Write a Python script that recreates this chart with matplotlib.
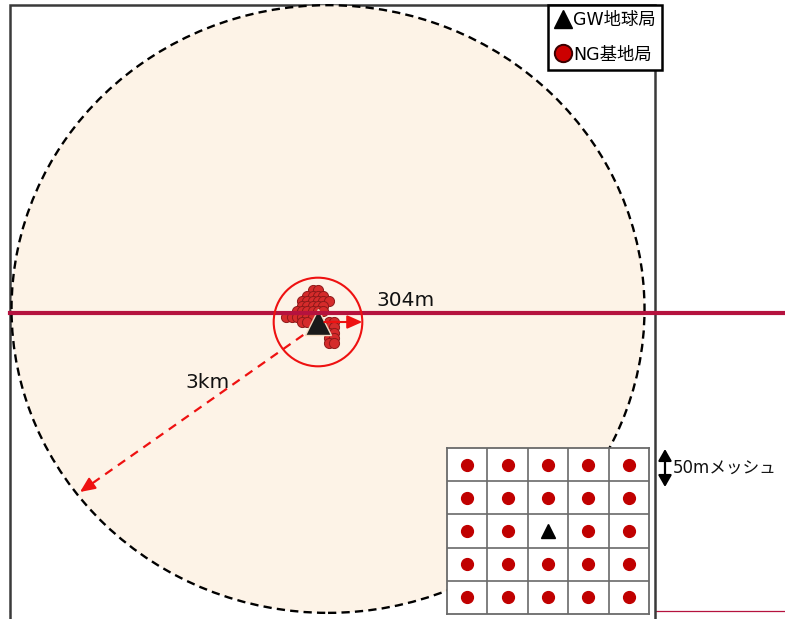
import matplotlib

matplotlib.use("Agg")
import matplotlib.pyplot as plt  # noqa: E402
from matplotlib.patches import Circle, Ellipse, Rectangle  # noqa: E402
from matplotlib.lines import Line2D  # noqa: E402

plt.rcParams["font.family"] = ["DejaVu Sans", "Noto Sans CJK JP"]

# --- data (metres, GW at origin) ---
MESH_M = 50
BIG_R = 3000          # east-west radius as drawn
BIG_R_NS = 2880       # the drawn shape is slightly squashed
BIG_CENTER = (95, 123)
SMALL_R = 420
GW_POS = (0, 0)
LABEL_SMALL = "304m"
LABEL_BIG = "3km"
LEGEND_LABELS = ["GW地球局", "NG基地局"]
MESH_LABEL = "50mメッシュ"

# NG stations around the GW, in 50 m mesh steps (east, north)
NG_I = [-1, 0,
        -2, -1, 0, 1,
        -3, -2, -1, 0, 1, 2,
        -3, -2, -1, 0, 1,
        -4, -3, -2, -1, 0, 1,
        -6, -5, -4, -3, -2, -1,
        -3, -2, 2, 3,
        2, 3, 2, 3, 2, 3, 2, 3]
NG_J = [6, 6,
        5, 5, 5, 5,
        4, 4, 4, 4, 4, 4,
        3, 3, 3, 3, 3,
        2, 2, 2, 2, 2, 2,
        1, 1, 1, 1, 1, 1,
        0, 0, 0, 0,
        -1, -1, -2, -2, -3, -3, -4, -4]

# inset mesh: 5x5 cells, GW in the middle
MESH_N = 5
MESH_GW = (2, 2)

W, H = 785, 619
PX = BIG_R / 316.5  # metres per pixel
ORIGIN = (318, 322)


def px(x, y):
    return ((x - ORIGIN[0]) * PX, (ORIGIN[1] - y) * PX)


fig = plt.figure(figsize=(W / 100, H / 100), dpi=100)
ax = fig.add_axes([0, 0, 1, 1])
x0, y1 = px(0, 0)
x1, y0 = px(W, H)
ax.set_xlim(x0, x1)
ax.set_ylim(y0, y1)
ax.set_aspect("equal")
ax.axis("off")

# thin red line behind the frame
ax.plot([px(10, 0)[0], x1], [px(0, 611)[1]] * 2, color="#B5123E", lw=0.9, zorder=0)

# frame
fl, ft = px(10, 5)
fr, _ = px(655, 5)
ax.add_patch(Rectangle((fl, y0 - 500), fr - fl, ft - y0 + 500, facecolor="white",
                       edgecolor="#3a3a3a", lw=1.8, zorder=1))

# 3 km area
ax.add_patch(Ellipse(BIG_CENTER, 2 * BIG_R, 2 * BIG_R_NS, facecolor="#FDF3E7",
                     edgecolor="black", lw=1.7, ls=(0, (3.5, 2.2)), zorder=2))

# NG cluster
ng_x = [GW_POS[0] + i * MESH_M for i in NG_I]
ng_y = [GW_POS[1] + j * MESH_M for j in NG_J]
ax.plot(ng_x, ng_y, "o", ms=7.3, color="#D52B2B", mec="#8E1A1A", mew=0.7, zorder=3)

# GW
ax.plot(*GW_POS, marker="^", ms=19, color="#1a1a1a", mec="#F3DCC2", mew=1.0, zorder=4)

# horizontal red line
ax.plot([px(10, 0)[0], x1], [px(0, 313)[1]] * 2, color="#B5123E", lw=3.0, zorder=5)

# 304 m circle and arrow
ax.add_patch(Circle(GW_POS, SMALL_R, facecolor="none", edgecolor="#EE1111", lw=1.5, zorder=5))
ax.annotate("", xy=(SMALL_R, GW_POS[1]), xytext=(GW_POS[0] + 60, GW_POS[1]),
            arrowprops=dict(arrowstyle="-|>,head_length=0.9,head_width=0.4",
                            color="#EE1111", lw=1.5, shrinkA=0, shrinkB=0), zorder=6)
ax.text(*px(376, 300), LABEL_SMALL, fontsize=14.5, va="center", ha="left", color="#111", zorder=6)

# 3 km dashed arrow
tip = px(80, 492)
start = px(316, 326)
back = (tip[0] + (start[0] - tip[0]) * 0.06, tip[1] + (start[1] - tip[1]) * 0.06)
ax.plot([start[0], back[0]], [start[1], back[1]], color="#EE1111", lw=1.6,
        ls=(0, (4, 3)), zorder=3)
ax.annotate("", xy=tip, xytext=back,
            arrowprops=dict(arrowstyle="-|>,head_length=0.9,head_width=0.4",
                            color="#EE1111", lw=1.5, shrinkA=0, shrinkB=0), zorder=3)
ax.text(*px(185, 383), LABEL_BIG, fontsize=14.5, va="center", ha="left", color="#111", zorder=6)

# legend
handles = [
    Line2D([], [], ls="none", marker="^", ms=13, color="black"),
    Line2D([], [], ls="none", marker="o", ms=12.5, color="#CC0000", mec="#3a0000", mew=1.4),
]
leg = ax.legend(handles, LEGEND_LABELS, loc="upper left",
                bbox_to_anchor=(548 / W, 1 - 5 / H), bbox_transform=fig.transFigure,
                fontsize=12.5, frameon=True, fancybox=False, framealpha=1,
                edgecolor="black", borderpad=0.35, labelspacing=0.95,
                handlelength=1.0, handletextpad=0.1, borderaxespad=0)
leg.get_frame().set_linewidth(1.8)
leg.set_zorder(10)

# mesh arrow + label
ax.annotate("", xy=px(665, 449), xytext=px(665, 487),
            arrowprops=dict(arrowstyle="<|-|>,head_length=0.7,head_width=0.4",
                            color="black", lw=1.6, shrinkA=0, shrinkB=0))
ax.text(*px(673, 468), MESH_LABEL, fontsize=12, va="center", ha="left", color="#111")

# inset mesh
ins = fig.add_axes([447 / W, 1 - 614 / H, 202 / W, 166 / H])
ins.set_xlim(0, MESH_N)
ins.set_ylim(0, MESH_N)
ins.set_xticks([])
ins.set_yticks([])
ins.set_facecolor("white")
for s in ins.spines.values():
    s.set_color("#6a6a6a")
    s.set_linewidth(1.3)
for k in range(1, MESH_N):
    ins.axvline(k, color="#6a6a6a", lw=1.2)
    ins.axhline(k, color="#6a6a6a", lw=1.2)
cx = [i + 0.5 for i in range(MESH_N) for j in range(MESH_N) if (i, j) != MESH_GW]
cy = [j + 0.5 for i in range(MESH_N) for j in range(MESH_N) if (i, j) != MESH_GW]
ins.plot(cx, cy, "o", ms=8.5, color="#C00000", mec="#C00000")
ins.plot(MESH_GW[0] + 0.5, MESH_GW[1] + 0.5, "^", ms=10.5, color="black")

fig.savefig("out.png", dpi=100)
